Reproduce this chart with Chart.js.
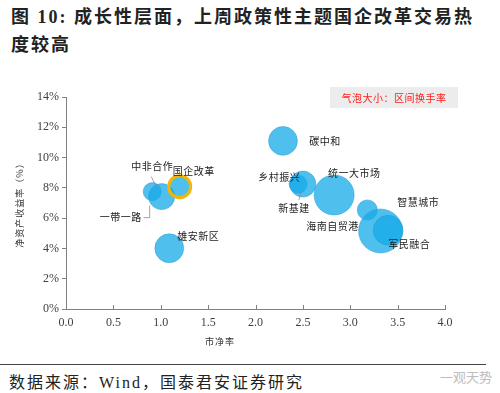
<!DOCTYPE html>
<html>
<head>
<meta charset="utf-8">
<script src="https://cdn.jsdelivr.net/npm/chart.js@4.4.1/dist/chart.umd.min.js"></script>
<style>
  body { margin: 0; width: 500px; height: 393px; background: #fff; position: relative; overflow: hidden; }
  #title { position: absolute; left: 11px; top: 3px; font: bold 18px "Liberation Serif", "Noto Sans CJK SC", serif; letter-spacing: 2px; line-height: 28px; color: #222; white-space: nowrap; }
  #wrap { position: absolute; left: 0; top: 60px; width: 500px; height: 300px; }
  #rule { position: absolute; left: 0; top: 364px; width: 486px; height: 0; border-top: 1.5px solid #444; }
  #source { position: absolute; left: 9px; top: 369px; font: 16px "Liberation Serif", "Noto Sans CJK SC", serif; letter-spacing: 2px; color: #222; white-space: nowrap; }
  #mark { position: absolute; left: 440px; top: 367px; font: 13px "Noto Sans CJK SC", sans-serif; color: #bdbdbd; }
</style>
</head>
<body>
<div id="title">图 10: 成长性层面，上周政策性主题国企改革交易热<br>度较高</div>
<div id="wrap"><canvas id="bubbleChart" width="500" height="300"></canvas></div>
<div id="rule"></div>
<div id="source">数据来源：Wind，国泰君安证券研究</div>
<div id="mark">一观天势</div>
<script>
const themes = ['中非合作', '一带一路', '国企改革', '雄安新区', '碳中和', '乡村振兴', '新基建', '统一大市场', '智慧城市', '海南自贸港', '军民融合'];
const pbValues = [0.91, 1.01, 1.20, 1.09, 2.29, 2.45, 2.50, 2.83, 3.18, 3.32, 3.40];
const roeValues = [7.75, 7.42, 8.08, 4.01, 11.1, 8.25, 8.25, 7.53, 6.54, 5.15, 5.2];
const turnoverValues = [17, 35, 25, 43, 43, 17, 35, 83, 21, 100, 46];
const xTicks = [0, 0.5, 1, 1.5, 2, 2.5, 3, 3.5, 4];
const yTicks = [0, 2, 4, 6, 8, 10, 12, 14];

// label placement relative to bubble centre (px)
const labelOffsets = [[0, -25], [-41, 21], [14, -15], [29, -12], [42, 0], [-19, -7], [-9, 24], [20, -22], [51, -8], [-48, -5], [21, 14]];
const leaders = {
  0: [[-1, -15], [5, -3]],
  1: [[-18, 21], [-12, 21], [-12, 9]],
  6: [[-4, 16], [-1, 5]]
};

const blue = 'rgba(20,170,232,0.75)';
const bgColors = themes.map(() => blue);
const borderColors = themes.map((t) => t === '国企改革' ? '#F2B705' : 'rgba(40,150,210,0.45)');
const borderWidths = themes.map((t) => t === '国企改革' ? 3 : 1);

const extras = {
  id: 'extras',
  afterDraw(chart) {
    const ctx = chart.ctx;
    const area = chart.chartArea;
    const xs = chart.scales.x;
    ctx.save();
    // x ticks drawn inward
    ctx.strokeStyle = '#808080';
    ctx.lineWidth = 1;
    xTicks.forEach(v => {
      const px = Math.round(xs.getPixelForValue(v)) + 0.5;
      ctx.beginPath();
      ctx.moveTo(px, area.bottom);
      ctx.lineTo(px, area.bottom - 4);
      ctx.stroke();
    });

    // leader lines
    const meta = chart.getDatasetMeta(0);
    ctx.strokeStyle = '#8a8a8a';
    ctx.lineWidth = 0.8;
    Object.keys(leaders).forEach(k => {
      const pt = meta.data[k];
      const pts = leaders[k];
      ctx.beginPath();
      pts.forEach((p, j) => {
        if (j === 0) ctx.moveTo(pt.x + p[0], pt.y + p[1]);
        else ctx.lineTo(pt.x + p[0], pt.y + p[1]);
      });
      ctx.stroke();
    });

    // bubble labels
    ctx.fillStyle = '#222';
    ctx.font = '10px "Noto Sans CJK SC", sans-serif';
    ctx.letterSpacing = '0.5px';
    ctx.textAlign = 'center';
    ctx.textBaseline = 'middle';
    meta.data.forEach((pt, i) => {
      const o = labelOffsets[i];
      ctx.fillText(themes[i], pt.x + o[0], pt.y + o[1]);
    });

    // size note box
    ctx.fillStyle = '#ececec';
    ctx.fillRect(330, 27, 128, 21);
    ctx.fillStyle = '#ff1a1a';
    ctx.font = '10px "Noto Sans CJK SC", sans-serif';
    ctx.fillText('气泡大小：区间换手率', 394, 38);

    // axis titles
    ctx.fillStyle = '#333';
    ctx.font = '9px "Noto Sans CJK SC", sans-serif';
    ctx.letterSpacing = '1px';
    ctx.fillText('市净率', 220, 282);
    ctx.translate(20, (area.top + area.bottom) / 2);
    ctx.rotate(-Math.PI / 2);
    ctx.fillText('净资产收益率（%）', 0, 0);
    ctx.restore();
  }
};

new Chart(document.getElementById('bubbleChart'), {
  type: 'bubble',
  data: {
    datasets: [{
      data: themes.map((t, i) => ({ x: pbValues[i], y: roeValues[i], r: 2.2 * Math.sqrt(turnoverValues[i]) })),
      backgroundColor: bgColors,
      borderColor: borderColors,
      borderWidth: borderWidths
    }]
  },
  options: {
    responsive: false,
    devicePixelRatio: 1,
    animation: false,
    layout: { padding: { top: 37, right: 55, left: 0, bottom: 0 } },
    plugins: { legend: { display: false }, tooltip: { enabled: false } },
    scales: {
      x: {
        type: 'linear', min: 0, max: 4,
        afterFit: (s) => { s.height = 51; },
        afterBuildTicks: (s) => { s.ticks = xTicks.map(v => ({ value: v })); },
        border: { color: '#808080', width: 1 },
        grid: { display: false, drawTicks: false },
        ticks: { padding: 7, color: '#404040', font: { family: '"Liberation Serif", serif', size: 12 }, callback: v => v.toFixed(1) }
      },
      y: {
        type: 'linear', min: 0, max: 14,
        afterFit: (s) => { s.width = 66; },
        afterBuildTicks: (s) => { s.ticks = yTicks.map(v => ({ value: v })); },
        border: { color: '#808080', width: 1 },
        grid: { drawOnChartArea: false, color: '#808080', tickLength: 4 },
        ticks: { padding: 3, color: '#404040', font: { family: '"Liberation Serif", serif', size: 12 }, callback: v => v + '%' }
      }
    }
  },
  plugins: [extras]
});
</script>
</body>
</html>
